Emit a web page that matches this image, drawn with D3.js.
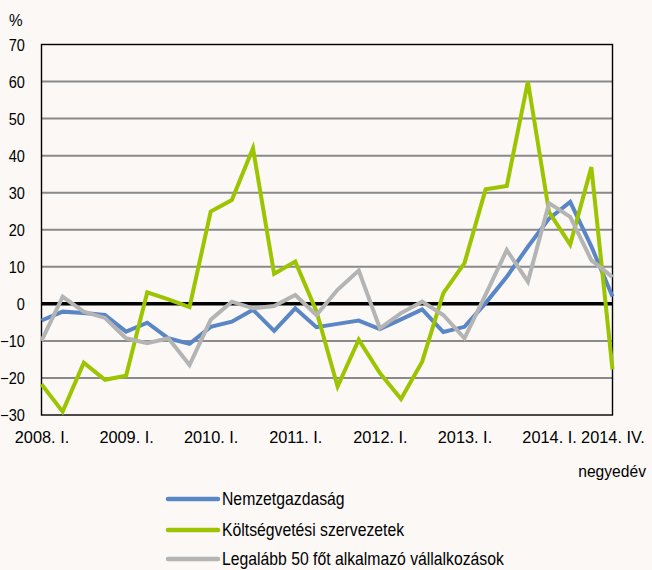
<!DOCTYPE html>
<html>
<head>
<meta charset="utf-8">
<script src="https://cdn.jsdelivr.net/npm/d3@7/dist/d3.min.js"></script>
<style>
  body { margin: 0; background: #fbf8f6; }
  svg text { font-family: "Liberation Sans", Arial, sans-serif; fill: #000; }
</style>
</head>
<body>
<div id="chart"></div>
<script>
// quarters 2008 I .. 2014 IV
const quarters = [];
for (let y = 2008; y <= 2014; y++) {
  ['I.', 'II.', 'III.', 'IV.'].forEach(q => quarters.push(y + '. ' + q));
}
const tickLabels = ['2008. I.', '2009. I.', '2010. I.', '2011. I.', '2012. I.', '2013. I.', '2014. I.', '2014. IV.'];
const yTicks = [-30, -20, -10, 0, 10, 20, 30, 40, 50, 60, 70];

const nemzetgazdasag = [-4.5, -2.1, -2.5, -3.0, -7.5, -5.1, -9.3, -10.8, -6.2, -4.8, -1.6, -7.3, -1.2, -6.3, -5.4, -4.5,
  -6.8, -4.2, -1.5, -7.6, -6.2, 0.2, 7.3, 15.4, 23.0, 27.5, 15.5, 2.0];
const koltsegvetesi = [-21.7, -29.1, -15.9, -20.5, -19.4, 3.1, 1.2, -0.9, 24.9, 28.0, 42.0, 8.1, 11.4, -2.0, -22.3, -9.7,
  -18.7, -25.7, -15.6, 2.9, 11.0, 30.9, 31.8, 60.0, 24.8, 16.0, 36.9, -17.7];
const legalabb50 = [-10.0, 1.9, -2.1, -3.8, -9.3, -10.6, -9.3, -16.5, -4.3, 0.6, -1.2, -0.6, 2.4, -3.0, 3.8, 9.0,
  -6.6, -2.5, 0.6, -3.0, -9.3, 2.5, 14.5, 6.0, 27.2, 23.5, 11.8, 7.2];

const series = [
  { name: 'Nemzetgazdaság', values: nemzetgazdasag, color: '#5a86c5' },
  { name: 'Költségvetési szervezetek', values: koltsegvetesi, color: '#9cc400' },
  { name: 'Legalább 50 főt alkalmazó vállalkozások', values: legalabb50, color: '#b4b4b4' }
];

let margin = { top: 44.5, left: 41.5 };
let width = 652, height = 570;
let plotW = 612.5 - margin.left;
let plotH = 415 - margin.top;

let svg = d3.select('#chart').append('svg')
  .attr('width', width)
  .attr('height', height)
  .style('background-color', '#fbf8f6');

let g = svg.append('g')
  .attr('transform', 'translate(' + margin.left + ',' + margin.top + ')');

let x = d3.scalePoint()
  .domain(quarters)
  .range([0, plotW]);
let y = d3.scaleLinear()
  .domain([-30, 70])
  .range([plotH, 0]);

// gridlines
g.selectAll('.grid')
  .data(yTicks.filter(d => d !== 0 && d !== -30 && d !== 70))
  .enter().append('line')
    .attr('x1', 0).attr('x2', plotW)
    .attr('y1', d => y(d)).attr('y2', d => y(d))
    .attr('stroke', '#8a8a8a')
    .attr('stroke-width', 2);

// frame
g.append('rect')
  .attr('width', plotW).attr('height', plotH)
  .attr('fill', 'none')
  .attr('stroke', '#000')
  .attr('stroke-width', 1.4);

// y axis labels (condensed like the original narrow font)
let yAxis = d3.axisLeft(y).tickValues(yTicks).tickSize(0).tickPadding(19);
g.append('g').call(yAxis)
  .call(a => a.select('.domain').remove())
  .selectAll('text')
    .style('font-size', '16.5px')
    .attr('dy', '0.35em')
    .attr('transform', 'scale(0.88,1)');

// x axis labels
let xAxis = d3.axisBottom(x)
  .tickValues(quarters.filter(q => tickLabels.includes(q)))
  .tickSize(0).tickPadding(16);
g.append('g')
  .attr('transform', 'translate(0,' + plotH + ')')
  .call(xAxis)
  .call(a => a.select('.domain').remove())
  .selectAll('text')
    .style('font-size', '17px')
    .attr('transform', 'scale(0.96,1)');

// zero line
g.append('line')
  .attr('x1', 0).attr('x2', plotW)
  .attr('y1', y(0)).attr('y2', y(0))
  .attr('stroke', '#000')
  .attr('stroke-width', 3.5);

let line = d3.line()
  .x((d, i) => x(quarters[i]))
  .y(d => y(d));

g.selectAll('.series')
  .data(series)
  .enter().append('path')
    .attr('d', d => line(d.values))
    .attr('fill', 'none')
    .attr('stroke', d => d.color)
    .attr('stroke-width', 4)
    .attr('stroke-linejoin', 'miter');

// unit and x title
svg.append('text')
  .attr('x', 10).attr('y', 26)
  .style('font-size', '17px')
  .attr('transform', 'scale(0.9,1)')
  .text('%');
svg.append('g')
  .attr('transform', 'translate(646,477) scale(0.92,1)')
  .append('text')
    .attr('text-anchor', 'end')
    .style('font-size', '17px')
    .text('negyedév');

// legend
let legend = svg.append('g');
let rows = legend.selectAll('g')
  .data(series)
  .enter().append('g')
    .attr('transform', (d, i) => 'translate(168,' + [499, 530, 559][i] + ')');
rows.append('line')
  .attr('x1', 0).attr('x2', 50)
  .attr('stroke', d => d.color)
  .attr('stroke-width', 4.5)
  .attr('stroke-linecap', 'round');
rows.append('text')
  .attr('dy', '0.35em')
  .style('font-size', '18px')
  .attr('transform', 'translate(54,0) scale(0.875,1)')
  .text(d => d.name);
</script>
</body>
</html>
